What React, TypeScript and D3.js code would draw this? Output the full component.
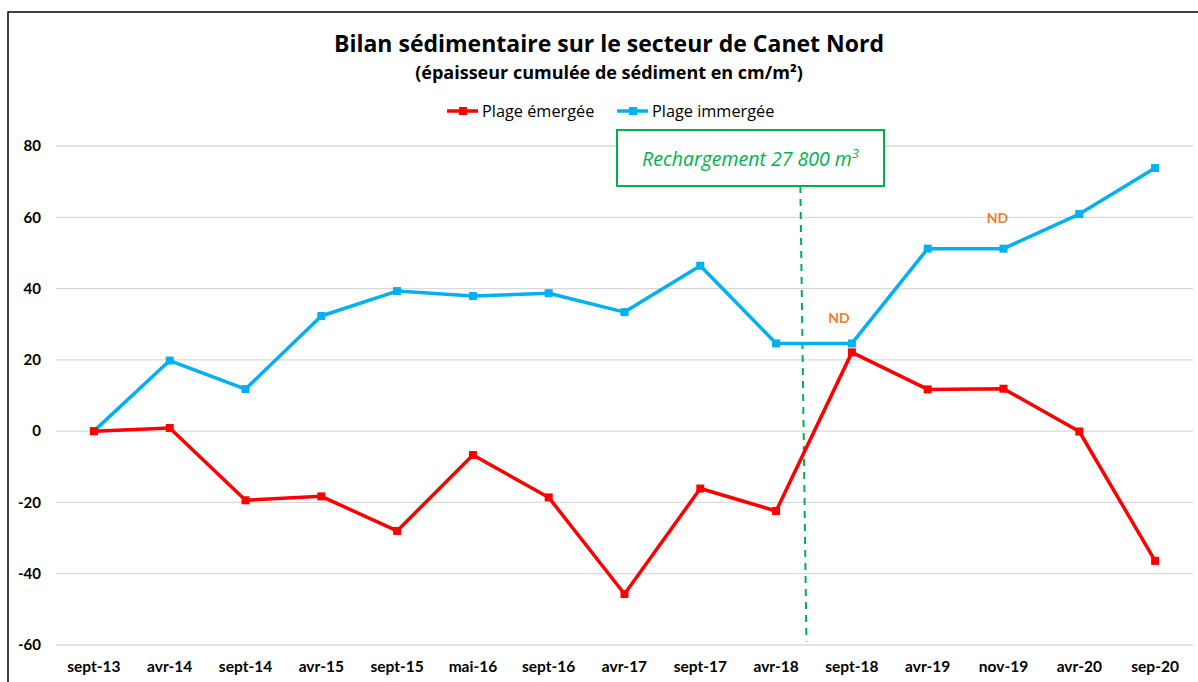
import { useEffect, useRef } from "react";
import * as d3 from "d3";

const categories = [
  "sept-13", "avr-14", "sept-14", "avr-15", "sept-15", "mai-16", "sept-16",
  "avr-17", "sept-17", "avr-18", "sept-18", "avr-19", "nov-19", "avr-20", "sep-20",
];
const emergee = [0, 0.9, -19.4, -18.3, -28, -6.7, -18.6, -45.7, -16.1, -22.4, 22.1, 11.7, 11.9, -0.1, -36.4];
const immergee = [0, 19.8, 11.8, 32.3, 39.3, 37.9, 38.7, 33.4, 46.4, 24.6, 24.6, 51.2, 51.2, 60.9, 73.8];
const yTicks = [-60, -40, -20, 0, 20, 40, 60, 80];

// ND labels sit above points where data was not available
const ndLabels = [
  { index: 10, value: 24.6, dx: -13, dy: -20 },
  { index: 12, value: 51.2, dx: -6, dy: -26 },
];

const FONT = "Lato, 'Open Sans', sans-serif";
const FONT2 = "'Open Sans', Lato, sans-serif";
const RED = "#FF0000";
const BLUE = "#00B0F0";
const GREEN = "#00B050";
const ORANGE = "#ED7D31";

export default function App() {
  const svgRef = useRef<SVGSVGElement>(null);

  useEffect(() => {
    const width = 1198;
    const height = 682;
    const margin = { left: 56, right: 5, top: 146, bottom: 37 };

    const svg = d3.select(svgRef.current);
    svg.selectAll("*").remove();

    const x = d3
      .scalePoint<string>()
      .domain(categories)
      .range([margin.left, width - margin.right])
      .padding(0.5);
    const step = x.step();
    const xi = (i: number) => margin.left + step * (i + 0.5);

    const y = d3.scaleLinear().domain([-60, 80]).range([height - margin.bottom, margin.top]);

    // frame
    svg.append("path")
      .attr("d", `M8,${height} L8,12 L${width},12`)
      .attr("fill", "none")
      .attr("stroke", "#000")
      .attr("stroke-width", 1.5);

    // gridlines
    svg.append("g")
      .selectAll("line")
      .data(yTicks)
      .join("line")
      .attr("x1", margin.left)
      .attr("x2", width - margin.right)
      .attr("y1", (d) => y(d))
      .attr("y2", (d) => y(d))
      .attr("stroke", "#D9D9D9")
      .attr("stroke-width", 1.3);

    // y axis labels
    svg.append("g")
      .selectAll("text")
      .data(yTicks)
      .join("text")
      .attr("x", 41)
      .attr("y", (d) => y(d))
      .attr("dy", "0.35em")
      .attr("text-anchor", "end")
      .attr("font-family", FONT)
      .attr("font-weight", "bold")
      .attr("font-size", 15)
      .attr("fill", "#000")
      .text((d) => d);

    // x axis labels
    svg.append("g")
      .selectAll("text")
      .data(categories)
      .join("text")
      .attr("x", (d) => x(d)!)
      .attr("y", 672)
      .attr("text-anchor", "middle")
      .attr("font-family", FONT)
      .attr("font-weight", "bold")
      .attr("font-size", 15.5)
      .attr("fill", "#000")
      .text((d) => d);

    // recharge annotation: dashed line + box
    const boxLeft = 617, boxRight = 884, boxTop = 130, boxBottom = 186;
    svg.append("line")
      .attr("x1", xi(9.32))
      .attr("y1", boxBottom)
      .attr("x2", xi(9.4))
      .attr("y2", y(-59))
      .attr("stroke", GREEN)
      .attr("stroke-width", 2)
      .attr("stroke-dasharray", "7,6");

    svg.append("rect")
      .attr("x", boxLeft)
      .attr("y", boxTop)
      .attr("width", boxRight - boxLeft)
      .attr("height", boxBottom - boxTop)
      .attr("fill", "#fff")
      .attr("stroke", GREEN)
      .attr("stroke-width", 2);

    const ann = svg.append("text")
      .attr("x", (boxLeft + boxRight) / 2)
      .attr("y", 166)
      .attr("text-anchor", "middle")
      .attr("font-family", FONT2)
      .attr("font-style", "italic")
      .attr("font-size", 19.5)
      .attr("fill", GREEN);
    ann.append("tspan").text("Rechargement 27 800 m");
    ann.append("tspan").attr("dy", -8).attr("font-size", 13).text("3");

    // series
    const line = d3
      .line<number>()
      .x((_, i) => xi(i))
      .y((d) => y(d));

    const series = [
      { values: immergee, color: BLUE },
      { values: emergee, color: RED },
    ];

    series.forEach((s) => {
      svg.append("path")
        .datum(s.values)
        .attr("d", line)
        .attr("fill", "none")
        .attr("stroke", s.color)
        .attr("stroke-width", 3.5)
        .attr("stroke-linejoin", "round");

      svg.append("g")
        .selectAll("rect")
        .data(s.values)
        .join("rect")
        .attr("x", (_, i) => xi(i) - 4)
        .attr("y", (d) => y(d) - 4)
        .attr("width", 8)
        .attr("height", 8)
        .attr("fill", s.color);
    });

    // ND labels
    svg.append("g")
      .selectAll("text")
      .data(ndLabels)
      .join("text")
      .attr("x", (d) => xi(d.index) + d.dx)
      .attr("y", (d) => y(d.value) + d.dy)
      .attr("text-anchor", "middle")
      .attr("font-family", FONT)
      .attr("font-weight", "bold")
      .attr("font-size", 14)
      .attr("fill", ORANGE)
      .text("ND");

    // title
    svg.append("text")
      .attr("x", 609)
      .attr("y", 52)
      .attr("text-anchor", "middle")
      .attr("font-family", FONT2)
      .attr("font-weight", "bold")
      .attr("font-size", 23)
      .attr("fill", "#000")
      .text("Bilan sédimentaire sur le secteur de Canet Nord");

    svg.append("text")
      .attr("x", 609)
      .attr("y", 79)
      .attr("text-anchor", "middle")
      .attr("font-family", FONT2)
      .attr("font-weight", "bold")
      .attr("font-size", 18)
      .attr("fill", "#000")
      .text("(épaisseur cumulée de sédiment en cm/m²)");

    // legend
    const legend = [
      { label: "Plage émergée", color: RED, x: 447 },
      { label: "Plage immergée", color: BLUE, x: 617 },
    ];
    const lg = svg.append("g");
    legend.forEach((l) => {
      lg.append("line")
        .attr("x1", l.x)
        .attr("x2", l.x + 31)
        .attr("y1", 111)
        .attr("y2", 111)
        .attr("stroke", l.color)
        .attr("stroke-width", 3.5);
      lg.append("rect")
        .attr("x", l.x + 12)
        .attr("y", 107)
        .attr("width", 8)
        .attr("height", 8)
        .attr("fill", l.color);
      lg.append("text")
        .attr("x", l.x + 35)
        .attr("y", 111)
        .attr("dy", "0.35em")
        .attr("font-family", FONT2)
        .attr("font-size", 16.3)
        .attr("fill", "#000")
        .text(l.label);
    });
  }, []);

  return (
    <svg
      ref={svgRef}
      width={1198}
      height={682}
      style={{ position: "absolute", left: 0, top: 0, background: "#fff" }}
    />
  );
}
